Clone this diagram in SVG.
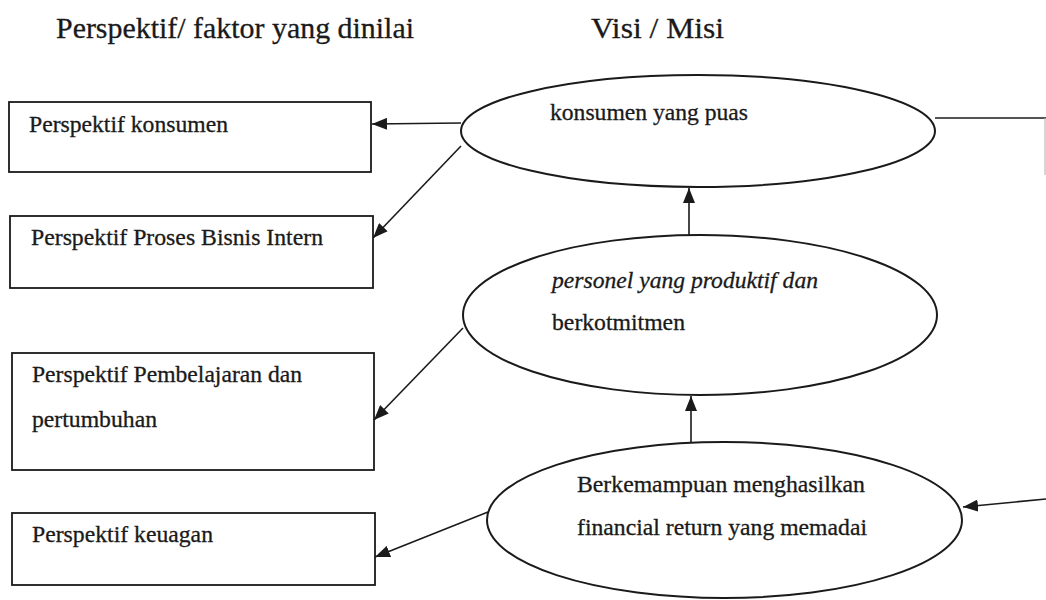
<svg xmlns="http://www.w3.org/2000/svg" width="1046" height="600" viewBox="0 0 1046 600">
<style>
.t{font-family:'Liberation Serif','Times New Roman',serif;fill:#1a1a1a;stroke:#1a1a1a;stroke-width:0.3}
.h{font-size:30px}
.b{font-size:23px}
.e{font-size:23px}
.box{fill:#fff;stroke:#1a1a1a;stroke-width:1.8}
.ell{fill:#fff;stroke:#1a1a1a;stroke-width:2}
.c{stroke:#1a1a1a;stroke-width:1.6;fill:none}
</style>
<defs>
<marker id="ah" markerUnits="userSpaceOnUse" markerWidth="16" markerHeight="12" refX="15" refY="6" orient="auto">
<path d="M0,0 L15,6 L0,12 Z" fill="#1a1a1a"/>
</marker>
</defs>
<rect width="1046" height="600" fill="#fff"/>
<g id="titles">
<text class="t h" x="56" y="38" textLength="358" lengthAdjust="spacingAndGlyphs">Perspektif/ faktor yang dinilai</text>
<text class="t h" x="591" y="38" textLength="133" lengthAdjust="spacingAndGlyphs">Visi / Misi</text>
</g>
<g id="box-konsumen">
<rect class="box" x="9" y="102" width="362" height="70"/>
<text class="t b" x="29" y="132" textLength="199" lengthAdjust="spacingAndGlyphs">Perspektif konsumen</text>
</g>
<g id="box-proses">
<rect class="box" x="10" y="216" width="363" height="72"/>
<text class="t b" x="31" y="245" textLength="292" lengthAdjust="spacingAndGlyphs">Perspektif Proses Bisnis Intern</text>
</g>
<g id="box-pembelajaran">
<rect class="box" x="12" y="353" width="362" height="117"/>
<text class="t b" x="32" y="382" textLength="270" lengthAdjust="spacingAndGlyphs">Perspektif Pembelajaran dan</text>
<text class="t b" x="32" y="427" textLength="125" lengthAdjust="spacingAndGlyphs">pertumbuhan</text>
</g>
<g id="box-keuangan">
<rect class="box" x="12" y="513" width="363" height="72"/>
<text class="t b" x="32" y="542" textLength="181" lengthAdjust="spacingAndGlyphs">Perspektif keuagan</text>
</g>
<g id="ell-konsumen">
<ellipse class="ell" cx="698" cy="131" rx="237" ry="56"/>
<text class="t e" x="550" y="120" textLength="198" lengthAdjust="spacingAndGlyphs">konsumen yang puas</text>
</g>
<g id="ell-personel">
<ellipse class="ell" cx="700" cy="315" rx="237" ry="80"/>
<text class="t e" x="552" y="288" font-style="italic" textLength="266" lengthAdjust="spacingAndGlyphs">personel yang produktif dan</text>
<text class="t e" x="552" y="330" textLength="133" lengthAdjust="spacingAndGlyphs">berkotmitmen</text>
</g>
<g id="ell-financial">
<ellipse class="ell" cx="724.5" cy="520" rx="237.5" ry="78"/>
<text class="t e" x="577" y="492" textLength="288" lengthAdjust="spacingAndGlyphs">Berkemampuan menghasilkan</text>
<text class="t e" x="577" y="535" textLength="290" lengthAdjust="spacingAndGlyphs">financial return yang memadai</text>
</g>
<g id="connectors">
<line class="c" x1="461" y1="123" x2="372" y2="124" marker-end="url(#ah)"/>
<line class="c" x1="461" y1="146" x2="373" y2="238" marker-end="url(#ah)"/>
<line class="c" x1="463" y1="328" x2="374" y2="420" marker-end="url(#ah)"/>
<line class="c" x1="488" y1="512" x2="375" y2="557" marker-end="url(#ah)"/>
<line class="c" x1="689" y1="235" x2="689" y2="188" marker-end="url(#ah)"/>
<line class="c" x1="691" y1="442" x2="691" y2="396" marker-end="url(#ah)"/>
<line class="c" x1="935" y1="118" x2="1046" y2="118"/>
<line x1="1045" y1="118" x2="1045" y2="175" stroke="#bbb" stroke-width="1.2"/>
<line class="c" x1="1046" y1="499" x2="963" y2="507" marker-end="url(#ah)"/>
</g>
</svg>
